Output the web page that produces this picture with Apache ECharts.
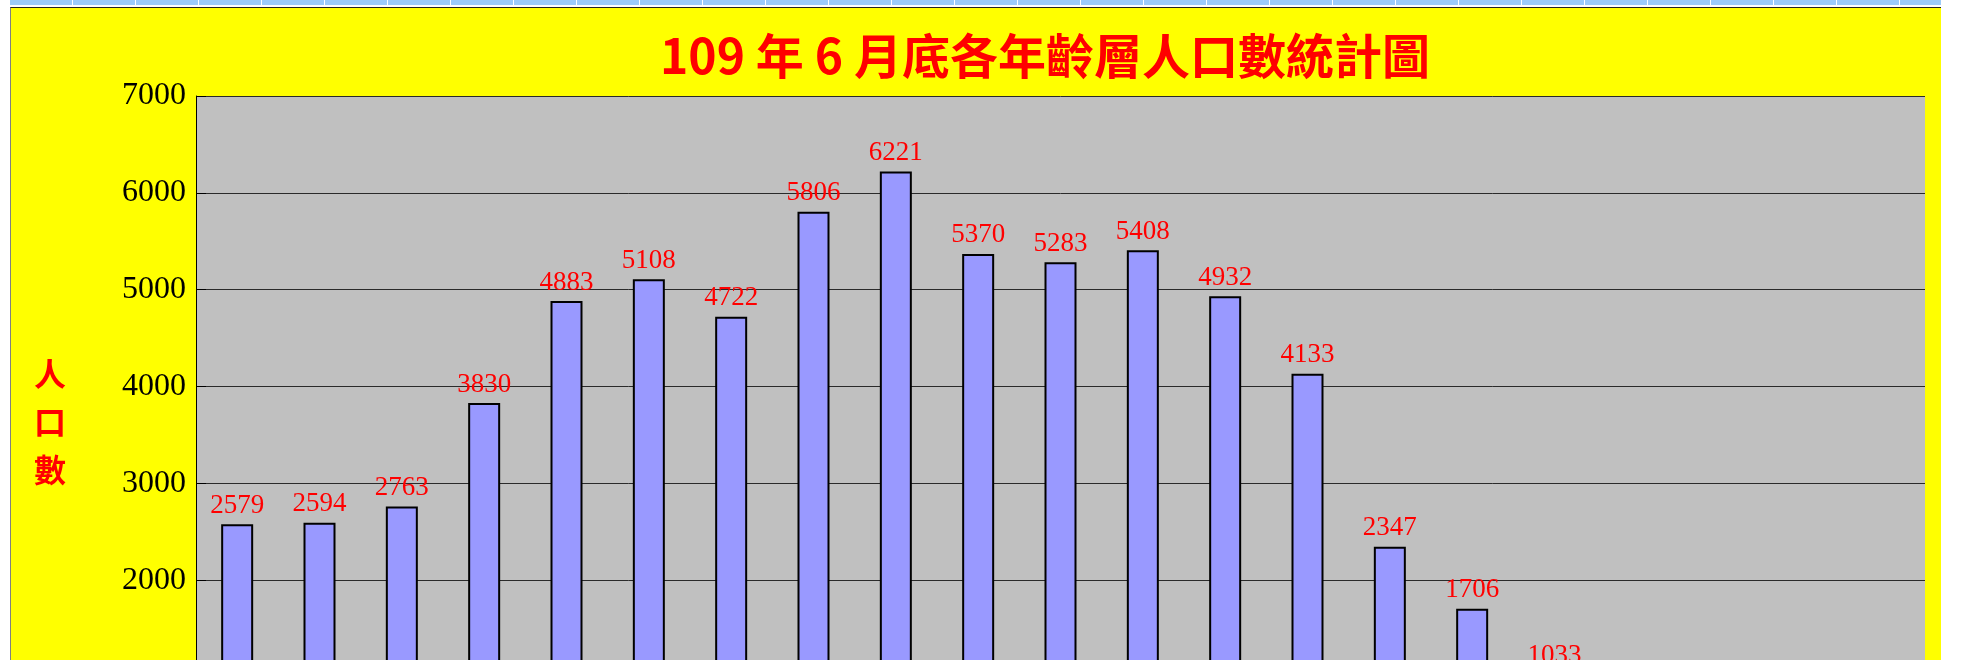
<!DOCTYPE html>
<html>
<head>
<meta charset="utf-8">
<title>109年6月底各年齡層人口數統計圖</title>
<script src="https://cdn.jsdelivr.net/npm/echarts@6/dist/echarts.min.js"></script>
<style>
  html, body {
    margin: 0;
    padding: 0;
    width: 1963px;
    height: 660px;
    overflow: hidden;
    background: #fff;
  }
  .sheet-head {
    position: absolute;
    left: 10px;
    top: 0;
    width: 1931px;
    height: 5px;
    background: repeating-linear-gradient(90deg, #9ccbf9 0, #9ccbf9 62px, #fff 62px, #fff 63px);
  }
  /* the chart continues below the window, as in the reference */
  .frame {
    position: absolute;
    left: 10px;
    top: 7px;
    width: 1931px;
    height: 813px;
    box-sizing: border-box;
    border-left: 1px solid #808080;
    border-top: 1px solid #222;
    background: #ffff00;
  }
  #chart {
    width: 100%;
    height: 100%;
  }
</style>
</head>
<body>
<div class="sheet-head"></div>
<div class="frame">
  <div id="chart"></div>
</div>
<script>
// 年齡層
const ageGroups = [
  '0-4', '5-9', '10-14', '15-19', '20-24', '25-29', '30-34', '35-39',
  '40-44', '45-49', '50-54', '55-59', '60-64', '65-69', '70-74', '75-79',
  '80-84', '85-89', '90-94', '95-99', '100+'
]
// 人口數 (最後幾組在畫面外, 為估計值)
const population = [
  2579, 2594, 2763, 3830, 4883, 5108, 4722, 5806,
  6221, 5370, 5283, 5408, 4932, 4133, 2347, 1706,
  1033, 520, 210, 50, 8
]
const yMin = 0
const yMax = 7000
const yStep = 1000

const titleText = '109 年 6 月底各年齡層人口數統計圖'
const yName = '人\n口\n數'

const chart = echarts.init(document.getElementById('chart'))

const option = {
  animation: false,
  backgroundColor: 'transparent',
  graphic: [
    {
      type: 'text',
      x: 1034,
      y: 48,
      style: {
        text: titleText,
        fill: '#ff0000',
        font: 'bold 48px "Noto Sans CJK TC"',
        align: 'center',
        verticalAlign: 'middle'
      }
    },
    {
      type: 'text',
      x: 39,
      y: 414,
      style: {
        text: yName,
        fill: '#ff0000',
        font: 'bold 32px "Noto Sans CJK TC"',
        lineHeight: 48,
        align: 'center',
        verticalAlign: 'middle'
      }
    }
  ],
  grid: {
    left: 185,
    right: 16,
    top: 88,
    bottom: 46,
    show: true,
    backgroundColor: '#c0c0c0',
    borderWidth: 0
  },
  xAxis: {
    type: 'category',
    data: ageGroups,
    axisLine: { lineStyle: { color: '#000' } },
    axisTick: { show: false },
    axisLabel: {
      color: '#000',
      fontFamily: 'Liberation Serif',
      fontSize: 24
    }
  },
  yAxis: {
    type: 'value',
    min: yMin,
    max: yMax,
    interval: yStep,
    axisLine: { show: true, lineStyle: { color: '#000', width: 1 } },
    axisTick: { show: true, inside: true, length: 10, lineStyle: { color: '#000' } },
    axisLabel: {
      color: '#000',
      fontFamily: 'Liberation Serif',
      fontSize: 32,
      margin: 10,
      formatter: v => String(v)
    },
    splitLine: { lineStyle: { color: '#2a2a2a', width: 1 } }
  },
  series: [
    {
      type: 'bar',
      data: population,
      barWidth: 32,
      itemStyle: {
        color: '#9999ff',
        borderColor: '#000',
        borderWidth: 2
      },
      label: {
        show: true,
        position: 'top',
        distance: 5,
        color: '#ff0000',
        fontFamily: 'Liberation Serif',
        fontSize: 27
      }
    }
  ]
}

chart.setOption(option)
</script>
</body>
</html>
